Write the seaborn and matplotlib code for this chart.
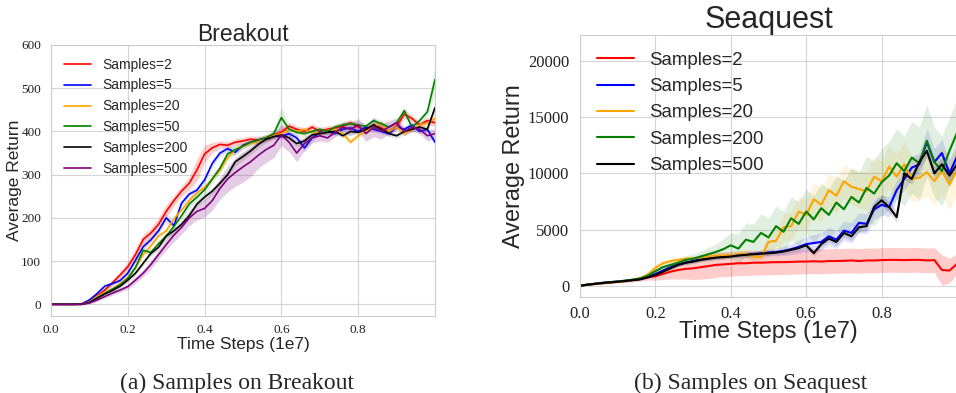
import matplotlib
matplotlib.use("Agg")
import matplotlib.pyplot as plt
import numpy as np
import pandas as pd
import seaborn as sns

# time steps (1e7), one reading every 0.02
steps = np.round(np.arange(51) * 0.02, 2)

# ---- Breakout: mean return per setting ----
bo_s2 = [0, 0, 0, 0, 1, 10, 20, 33, 50, 68, 87, 115, 150, 165, 185, 215, 240, 262, 280, 311,
         348, 362, 370, 368, 375, 378, 382, 380, 385, 392, 398, 412, 405, 400, 410, 400, 405,
         408, 412, 420, 410, 402, 415, 408, 400, 412, 440, 430, 415, 425, 420]
bo_s5 = [0, 0, 0, 0, 1, 10, 25, 42, 48, 55, 72, 102, 133, 149, 170, 200, 182, 234, 255, 264,
         288, 326, 350, 360, 352, 368, 375, 380, 385, 390, 388, 395, 385, 362, 385, 398, 400,
         395, 405, 408, 400, 410, 405, 400, 395, 410, 405, 415, 400, 405, 375]
bo_s20 = [0, 0, 0, 0, 0, 6, 18, 28, 36, 48, 62, 85, 115, 135, 158, 170, 198, 218, 240, 258,
          270, 290, 310, 340, 358, 366, 372, 378, 385, 390, 395, 405, 400, 405, 398, 395, 402,
          405, 395, 375, 390, 400, 410, 420, 400, 410, 395, 405, 415, 420, 430]
bo_s50 = [0, 0, 0, 0, 0, 5, 15, 25, 35, 45, 60, 85, 125, 120, 140, 158, 180, 205, 232, 248,
          265, 290, 315, 348, 358, 366, 375, 380, 385, 395, 432, 405, 398, 395, 400, 405, 400,
          410, 415, 418, 415, 412, 425, 418, 410, 420, 448, 410, 425, 445, 520]
bo_s200 = [0, 0, 0, 0, 0, 4, 14, 24, 32, 42, 56, 72, 95, 118, 132, 158, 170, 185, 205, 232,
           248, 262, 280, 300, 330, 342, 355, 370, 382, 388, 392, 385, 372, 378, 392, 395, 398,
           400, 390, 400, 398, 405, 415, 405, 395, 390, 400, 405, 410, 405, 455]
bo_s500 = [0, 0, 0, 0, 0, 3, 10, 18, 26, 33, 41, 56, 72, 92, 115, 138, 160, 178, 200, 215,
           222, 240, 268, 290, 305, 318, 330, 345, 358, 368, 392, 375, 350, 372, 385, 390, 385,
           398, 410, 405, 415, 395, 410, 400, 410, 420, 400, 410, 405, 390, 395]

# half-width of the shaded band
bo_s2_sd = [0, 0, 0, 0, 1, 3, 4, 5, 6, 8, 12, 15, 12, 12, 15, 15, 12, 12, 15, 25, 20, 12, 8, 8,
            8, 8, 8, 8, 8, 8, 8, 8, 8, 8, 8, 8, 8, 8, 8, 8, 8, 8, 8, 8, 8, 8, 10, 8, 8, 8, 8]
bo_s5_sd = [0, 0, 0, 0, 1, 3, 4, 5, 5, 5, 6, 8, 8, 8, 8, 10, 8, 8, 8, 8, 8, 8, 8, 8, 8, 6, 6, 6,
            6, 6, 6, 6, 8, 10, 8, 6, 6, 6, 6, 6, 6, 6, 6, 6, 6, 6, 6, 6, 6, 6, 8]
bo_s20_sd = [0, 0, 0, 0, 0, 2, 3, 4, 5, 5, 6, 6, 6, 6, 6, 6, 6, 6, 6, 6, 6, 6, 6, 8, 10, 8, 6,
             6, 6, 6, 6, 6, 6, 6, 6, 6, 6, 6, 6, 8, 6, 6, 6, 6, 6, 6, 6, 6, 6, 8, 10]
bo_s50_sd = [0, 0, 0, 0, 0, 2, 3, 4, 5, 5, 6, 6, 6, 8, 8, 8, 8, 8, 10, 12, 12, 10, 10, 12, 10,
             8, 8, 8, 8, 10, 25, 10, 8, 8, 8, 8, 8, 8, 8, 8, 8, 8, 8, 8, 8, 8, 10, 8, 8, 10, 35]
bo_s200_sd = [0, 0, 0, 0, 0, 2, 3, 4, 4, 5, 5, 5, 6, 6, 6, 6, 6, 6, 6, 6, 8, 8, 8, 8, 10, 8, 8,
              8, 8, 6, 6, 6, 8, 8, 6, 6, 6, 6, 6, 6, 6, 6, 6, 6, 6, 6, 6, 6, 6, 6, 10]
bo_s500_sd = [0, 0, 0, 0, 0, 2, 3, 4, 5, 5, 6, 8, 8, 10, 10, 12, 15, 15, 18, 20, 20, 22, 25, 30,
              32, 35, 35, 30, 30, 28, 25, 22, 20, 15, 12, 12, 10, 10, 12, 15, 15, 18, 22, 18, 15,
              12, 10, 10, 10, 12, 12]

bo_labels = ["Samples=2", "Samples=5", "Samples=20", "Samples=50", "Samples=200", "Samples=500"]
bo_colors = ["red", "blue", "orange", "green", "black", "purple"]
bo_means = [bo_s2, bo_s5, bo_s20, bo_s50, bo_s200, bo_s500]
bo_sds = [bo_s2_sd, bo_s5_sd, bo_s20_sd, bo_s50_sd, bo_s200_sd, bo_s500_sd]

# ---- Seaquest ----
sq_s2 = [0, 80, 150, 220, 280, 350, 420, 500, 600, 750, 850, 1050, 1250, 1400, 1500, 1550, 1650,
         1750, 1850, 1900, 1950, 2000, 2000, 2050, 2050, 2080, 2100, 2100, 2120, 2150, 2150, 2180,
         2150, 2200, 2200, 2220, 2250, 2200, 2250, 2250, 2280, 2300, 2300, 2280, 2300, 2300,
         2250, 2280, 1400, 1350, 1950]
sq_s5 = [0, 100, 180, 260, 320, 380, 450, 520, 600, 800, 1050, 1350, 1650, 1900, 2050, 2200,
         2350, 2450, 2550, 2600, 2650, 2700, 2780, 2820, 2880, 2950, 3000, 3100, 3250, 3450,
         3700, 3800, 3900, 4400, 4100, 4900, 4700, 5600, 5500, 6800, 7200, 7000, 8500, 9500,
         10500, 10800, 12800, 11000, 11800, 10000, 11500]
sq_s20 = [0, 100, 170, 230, 300, 350, 420, 520, 700, 1000, 1600, 2000, 2200, 2300, 2400, 2450,
          2500, 2600, 2650, 2700, 2700, 2800, 2850, 2600, 2500, 3900, 4000, 5200, 5300, 6600,
          6300, 7700, 7200, 8500, 8000, 9300, 8800, 8600, 8400, 9700, 9300, 10600, 9700, 10800,
          9500, 9600, 10100, 9300, 10200, 9000, 10300]
sq_s200 = [0, 100, 180, 250, 320, 380, 450, 550, 650, 900, 1300, 1650, 1850, 2050, 2300, 2400,
           2600, 2800, 3000, 3250, 3600, 3300, 4100, 3900, 4700, 4300, 5300, 4800, 6000, 5500,
           6600, 5900, 6900, 6300, 7400, 6800, 7900, 7400, 8700, 8200, 9200, 9800, 10900,
           10200, 11400, 10900, 12900, 11000, 10200, 12000, 13600]
sq_s500 = [0, 100, 170, 250, 300, 360, 420, 500, 580, 750, 950, 1250, 1550, 1850, 2050, 2150,
           2300, 2400, 2500, 2550, 2600, 2700, 2750, 2800, 2850, 2900, 2950, 3050, 3200, 3350,
           3600, 2900, 3700, 4200, 3900, 4700, 4400, 5200, 5300, 7000, 7600, 7000, 6100, 10000,
           9500, 11000, 12000, 10000, 10800, 9800, 10800]

sq_s2_sd = [0, 20, 40, 60, 80, 100, 120, 150, 200, 250, 350, 500, 650, 800, 900, 1000, 1050,
            1100, 1100, 1100, 1100, 1100, 1100, 1100, 1100, 1100, 1100, 1100, 1100, 1100, 1100,
            1100, 1100, 1100, 1100, 1100, 1100, 1100, 1100, 1100, 1100, 1100, 1100, 1100, 1100,
            1100, 1100, 1100, 1350, 1100, 900]
sq_s5_sd = [0, 30, 40, 50, 60, 60, 80, 80, 100, 120, 150, 150, 150, 150, 150, 150, 150, 150, 200,
            200, 200, 200, 250, 250, 300, 300, 350, 400, 500, 600, 700, 750, 800, 800, 800, 850,
            900, 900, 900, 900, 900, 900, 900, 1000, 1000, 1000, 1200, 1200, 1200, 1200, 1200]
sq_s20_sd = [0, 30, 40, 50, 60, 60, 80, 100, 120, 150, 200, 200, 200, 200, 200, 200, 250, 250,
             300, 300, 300, 350, 400, 500, 600, 800, 1000, 1200, 1300, 1400, 1400, 1500, 1500,
             1500, 1500, 1500, 1600, 1600, 1700, 1800, 1800, 1900, 2000, 2000, 2000, 2000, 2100,
             2100, 2200, 2200, 2200]
sq_s200_sd = [0, 30, 40, 50, 60, 60, 80, 100, 120, 150, 200, 250, 300, 350, 400, 450, 500, 600,
              700, 900, 1100, 1300, 1500, 1600, 1700, 1700, 1800, 1800, 1900, 2000, 2000, 2100,
              2200, 2300, 2400, 2500, 2600, 2700, 2800, 2900, 3000, 3000, 3100, 3100, 3200,
              3200, 3200, 3100, 3100, 3000, 3000]
sq_s500_sd = [0, 30, 40, 50, 60, 60, 80, 80, 100, 100, 120, 120, 150, 150, 150, 150, 150, 150,
              150, 150, 150, 150, 200, 200, 200, 200, 200, 250, 250, 250, 300, 300, 300, 300,
              350, 350, 400, 400, 400, 450, 450, 500, 500, 500, 500, 600, 600, 600, 600, 600, 600]

sq_labels = ["Samples=2", "Samples=5", "Samples=20", "Samples=200", "Samples=500"]
sq_colors = ["red", "blue", "orange", "green", "black"]
sq_means = [sq_s2, sq_s5, sq_s20, sq_s200, sq_s500]
sq_sds = [sq_s2_sd, sq_s5_sd, sq_s20_sd, sq_s200_sd, sq_s500_sd]


def long_frame(labels, means, sds):
    parts = []
    for lab, m, s in zip(labels, means, sds):
        parts.append(pd.DataFrame({"step": steps, "ret": m, "sd": s, "setting": lab}))
    return pd.concat(parts, ignore_index=True)


def draw_panel(ax, labels, colors, means, sds, lw, sizes):
    df = long_frame(labels, means, sds)
    palette = dict(zip(labels, colors))
    for lab in labels:
        sub = df[df["setting"] == lab]
        alpha = 0.2 if palette[lab] in ("red", "purple") else 0.12
        ax.fill_between(sub["step"], sub["ret"] - sub["sd"], sub["ret"] + sub["sd"],
                        color=palette[lab], alpha=alpha, linewidth=0)
    sns.lineplot(data=df, x="step", y="ret", hue="setting", hue_order=labels,
                 palette=palette, estimator=None, linewidth=lw, ax=ax)
    ax.legend(loc="upper left", frameon=False, fontsize=sizes["legend"])
    ax.set_xlabel("Time Steps (1e7)", fontsize=sizes["label"])
    ax.set_ylabel("Average Return", fontsize=sizes["label"])
    ax.xaxis.set_label_coords(0.5, sizes["xlab"])
    ax.yaxis.set_label_coords(sizes["ylab"], 0.5)
    ax.set_xlim(0, 1.0)
    ax.set_xticks([0.0, 0.2, 0.4, 0.6, 0.8])
    ax.tick_params(axis="x", labelsize=sizes["tick"], pad=sizes["xtickpad"])
    ax.tick_params(axis="y", labelsize=sizes["tick"], pad=sizes["ytickpad"])
    for t in ax.get_xticklabels() + ax.get_yticklabels():
        t.set_fontfamily("Liberation Serif")
        t.set_color("#222222")


sns.set_style("whitegrid")
plt.rcParams["font.family"] = ["Liberation Sans", "DejaVu Sans"]
plt.rcParams["axes.edgecolor"] = "#cccccc"
plt.rcParams["grid.color"] = "#d5d5d5"

fig = plt.figure(figsize=(9.56, 3.93), dpi=100)
ax1 = fig.add_axes([51 / 956, 77 / 393, 384 / 956, 271 / 393])
ax2 = fig.add_axes([580 / 956, 96 / 393, 377 / 956, 262 / 393])

draw_panel(ax1, bo_labels, bo_colors, bo_means, bo_sds, 1.2,
           {"legend": 10, "label": 12.5, "tick": 9.5, "xtickpad": 2, "ytickpad": 3.6,
            "xlab": -0.078, "ylab": -0.0755})
ax1.set_ylim(-27, 600)
ax1.set_yticks([0, 100, 200, 300, 400, 500, 600])
ax1.set_title("Breakout", fontsize=16.5, pad=3)

draw_panel(ax2, sq_labels, sq_colors, sq_means, sq_sds, 1.5,
           {"legend": 13.4, "label": 16.8, "tick": 12, "xtickpad": 3, "ytickpad": 4.3,
            "xlab": -0.088, "ylab": -0.146})
ax2.set_ylim(-1000, 22300)
ax2.set_yticks([0, 5000, 10000, 15000, 20000])
ax2.set_title("Seaquest", fontsize=22, pad=5)

fig.text(237 / 956, 1 - 383 / 393, "(a) Samples on Breakout", ha="center", va="center",
         fontsize=17, family="Liberation Serif")
fig.text(751 / 956, 1 - 383 / 393, "(b) Samples on Seaquest", ha="center", va="center",
         fontsize=17, family="Liberation Serif")

fig.savefig("out.png", dpi=100)
